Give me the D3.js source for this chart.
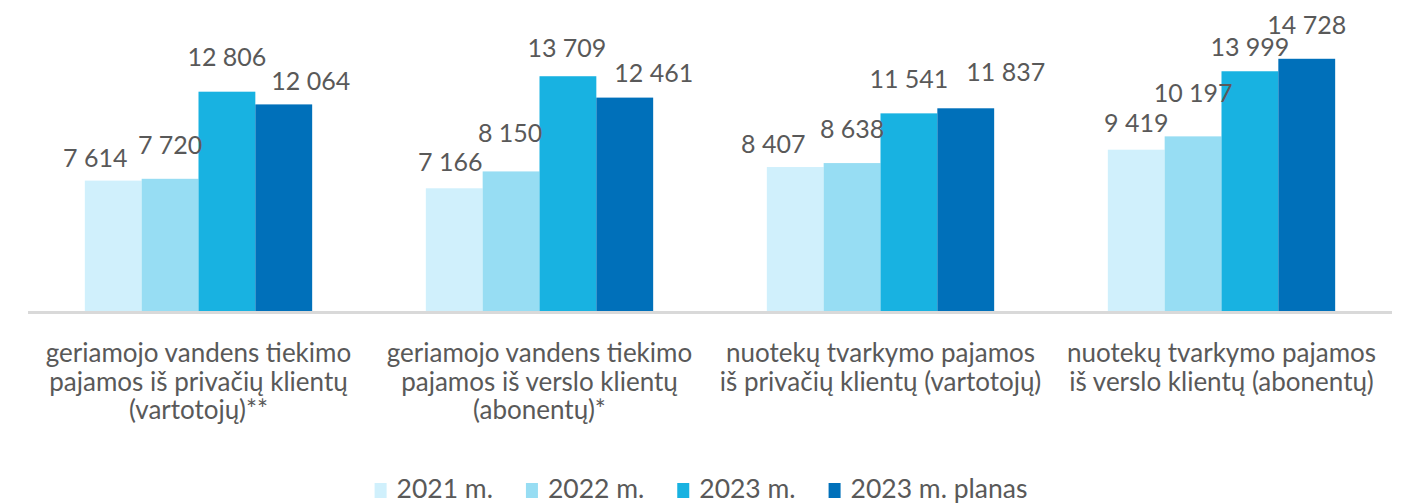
<!DOCTYPE html>
<html>
<head>
<meta charset="utf-8">
<script src="https://d3js.org/d3.v7.min.js"></script>
<style>
    body { margin: 0; background: #ffffff; }
    text { font-family: Lato, "Open Sans", sans-serif; fill: #595959; }
</style>
</head>
<body>
<div id="barChart"></div>
<script>

let categories = [
    ["geriamojo vandens tiekimo", "pajamos iš privačių klientų", "(vartotojų)**"],
    ["geriamojo vandens tiekimo", "pajamos iš verslo klientų", "(abonentų)*"],
    ["nuotekų tvarkymo pajamos", "iš privačių klientų (vartotojų)"],
    ["nuotekų tvarkymo pajamos", "iš verslo klientų (abonentų)"]
];

let seriesNames = ["2021 m.", "2022 m.", "2023 m.", "2023 m. planas"];

let values2021 = [7614, 7166, 8407, 9419];
let values2022 = [7720, 8150, 8638, 10197];
let values2023 = [12806, 13709, 11541, 13999];
let valuesPlan = [12064, 12461, 11837, 14728];

let seriesValues = [values2021, values2022, values2023, valuesPlan];

let colors = ["#d0f0fc", "#97ddf3", "#18b2e1", "#0070ba"];

// label nudges (dx, dy) so the value labels sit like in the original layout
let labelNudge = [
    [[-18, 0], [0, -11], [0, -12], [27, 0]],
    [[-4, -3], [-1, -15], [-1, -5], [29, -2]],
    [[-22, 0], [0, -11], [0, -11], [40, -13]],
    [[0, -4], [0, -20], [0, -1], [0, -11]]
];

let margin = {container_width: 1402, container_height: 504, left: 28, right: 10, baseline: 311, top: 37};

let svg = d3.select("#barChart")
    .append("svg")
    .attr("width", margin.container_width)
    .attr("height", margin.container_height);

let x0 = d3.scaleBand()
    .domain(d3.range(categories.length))
    .range([margin.left, margin.container_width - margin.right])
    .padding(0);

let x1 = d3.scaleBand()
    .domain(d3.range(seriesNames.length))
    .range([0, x0.bandwidth()])
    .paddingInner(0)
    .paddingOuter(1);

let y = d3.scaleLinear()
    .domain([0, 16000])
    .range([margin.baseline, margin.top]);

let fmt = function(v) {
    return d3.format(",")(v).replace(/,/g, " ");
};

let rows = [];
categories.forEach(function(c, i) {
    seriesNames.forEach(function(s, j) {
        rows.push({cat: i, ser: j, value: seriesValues[j][i]});
    });
});

svg.append("g")
    .selectAll("rect")
    .data(rows)
    .enter()
    .append("rect")
    .attr("x", function(d) { return x0(d.cat) + x1(d.ser); })
    .attr("y", function(d) { return y(d.value); })
    .attr("width", x1.bandwidth())
    .attr("height", function(d) { return y(0) - y(d.value); })
    .attr("fill", function(d) { return colors[d.ser]; });

// baseline
svg.append("line")
    .attr("x1", x0.range()[0])
    .attr("x2", x0.range()[1])
    .attr("y1", y(0) + 1.5)
    .attr("y2", y(0) + 1.5)
    .attr("stroke", "#d9d9d9")
    .attr("stroke-width", 3);

svg.append("g")
    .selectAll("text")
    .data(rows)
    .enter()
    .append("text")
    .attr("text-anchor", "middle")
    .attr("font-size", "25px")
    .attr("x", function(d) { return x0(d.cat) + x1(d.ser) + x1.bandwidth() / 2 + labelNudge[d.cat][d.ser][0]; })
    .attr("y", function(d) { return y(d.value) - 14 + labelNudge[d.cat][d.ser][1]; })
    .text(function(d) { return fmt(d.value); });

// category labels
let catLabels = svg.append("g")
    .selectAll("text")
    .data(categories)
    .enter()
    .append("text")
    .attr("text-anchor", "middle")
    .attr("font-size", "26px")
    .attr("transform", function(d, i) {
        return "translate(" + (x0(i) + x0.bandwidth() / 2) + ",362)";
    });

catLabels.selectAll("tspan")
    .data(function(d) { return d; })
    .enter()
    .append("tspan")
    .attr("x", 0)
    .attr("y", function(d, i) { return i * 28.5; })
    .text(function(d) { return d; });

// legend
let legend = svg.append("g");
let cursor = 0;
seriesNames.forEach(function(name, i) {
    let item = legend.append("g").attr("transform", "translate(" + cursor + ",0)");
    item.append("rect")
        .attr("x", 0)
        .attr("y", -15)
        .attr("width", 12)
        .attr("height", 15)
        .attr("fill", colors[i]);
    let t = item.append("text")
        .attr("x", 22)
        .attr("y", 0)
        .attr("font-size", "26.5px")
        .text(name);
    cursor += 22 + t.node().getComputedTextLength() + 33;
});
cursor -= 33;
legend.attr("transform", "translate(" + (margin.container_width / 2 - cursor / 2) + ",498)");

</script>
</body>
</html>
